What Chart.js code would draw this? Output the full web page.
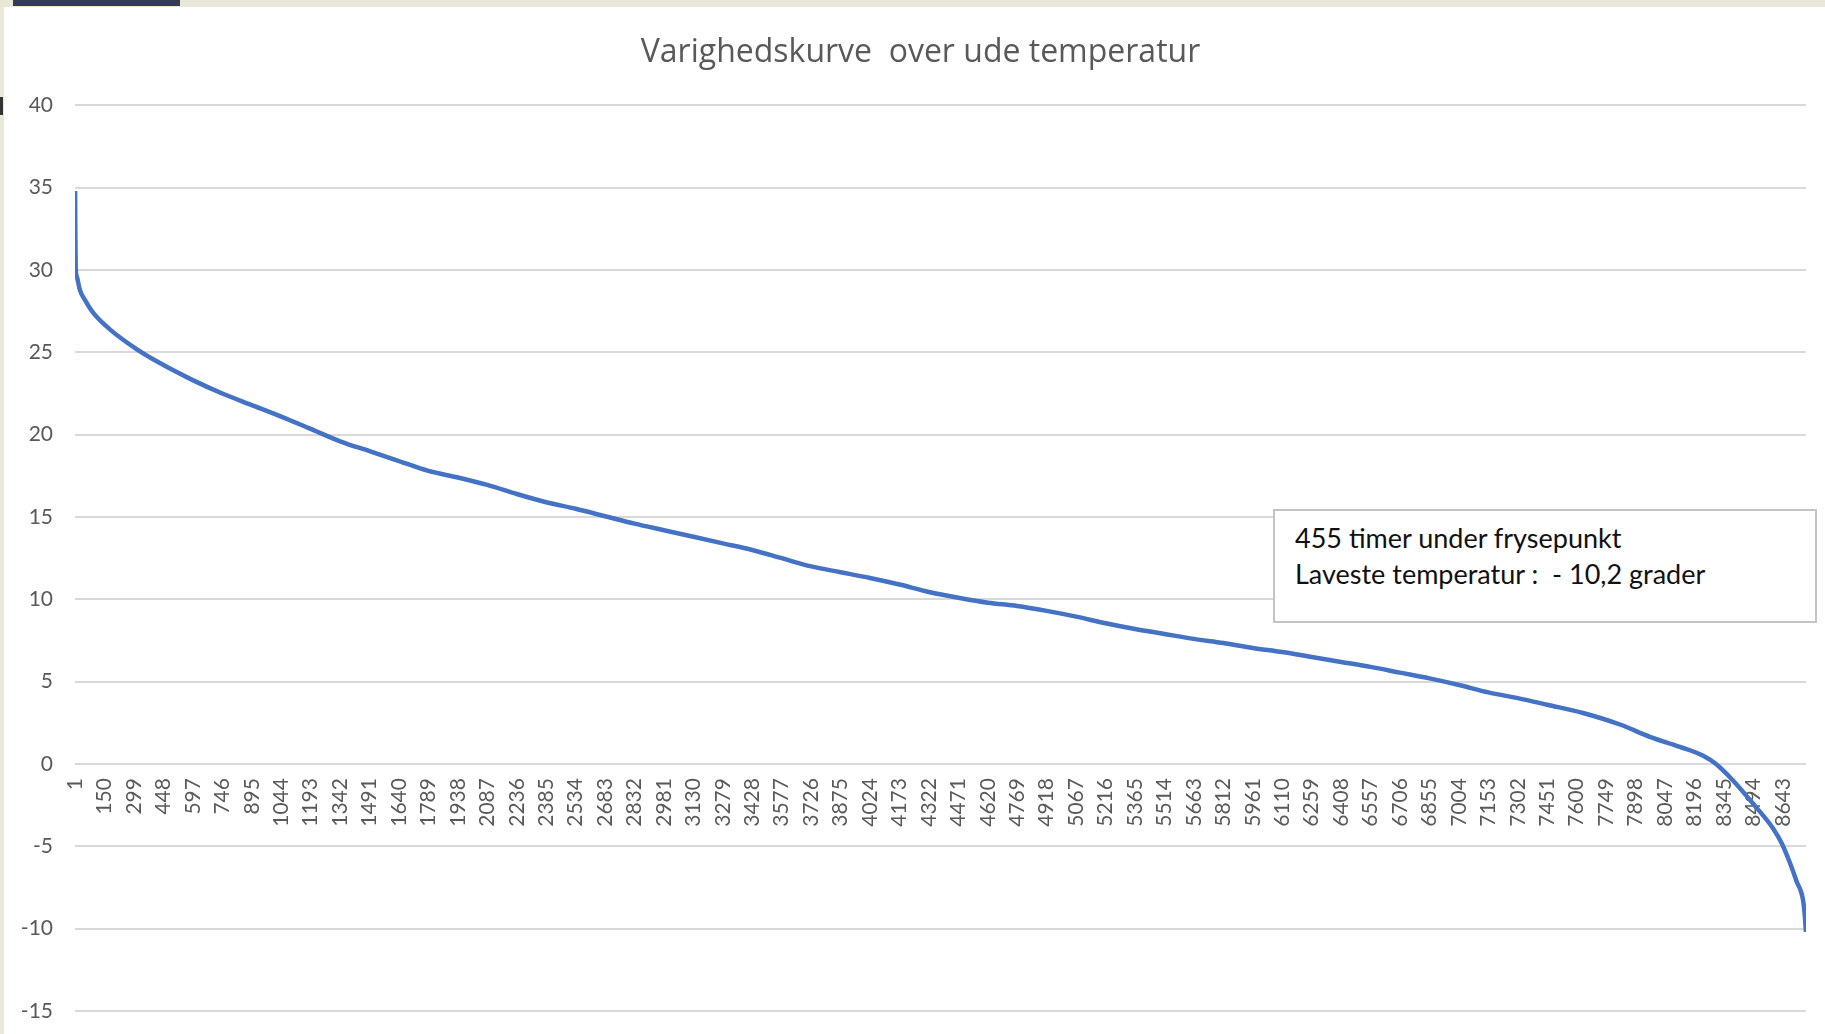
<!DOCTYPE html>
<html>
<head>
<meta charset="utf-8">
<script src="https://cdn.jsdelivr.net/npm/chart.js@4/dist/chart.umd.min.js"></script>
<style>
  html, body { margin: 0; padding: 0; width: 1825px; height: 1034px; overflow: hidden; background: #e9e8d8; }
  #wrap { position: absolute; left: 4px; top: 7px; width: 1821px; height: 1027px; background: #ffffff; }
  #bar { position: absolute; left: 13px; top: 0; width: 167px; height: 6px; background: #363a52; }
  #mark { position: absolute; left: 0; top: 97px; width: 3px; height: 18px; background: #333333; }
  #note { position: absolute; left: 1273px; top: 509px; width: 540px; height: 110px; background: #ffffff;
          border: 2px solid #c4c4c4; font-family: Lato, "Open Sans", sans-serif; font-size: 27px; line-height: 36px;
          color: #111111; padding: 0; box-sizing: content-box; }
  #note div { padding-left: 20px; white-space: pre; }
</style>
</head>
<body>
<div id="bar"></div>
<div id="mark"></div>
<div id="wrap"><canvas id="c"></canvas></div>
<div id="note"><div style="padding-top:9px">455 timer under frysepunkt</div><div>Laveste temperatur :  - 10,2 grader</div></div>
<script>
// Hours (sorted duration position) and temperature values
const hours = [1, 2, 4, 10, 25, 55, 93, 177, 312, 430, 599, 746, 895, 1044, 1193, 1342, 1491, 1640,
  1789, 1938, 2087, 2236, 2385, 2534, 2683, 2832, 2981, 3130, 3279, 3428, 3577, 3726, 3875, 4024, 4173, 4322,
  4471, 4620, 4769, 4918, 5067, 5216, 5365, 5514, 5663, 5812, 5961, 6110, 6259, 6408, 6557, 6706, 6855, 7004,
  7153, 7302, 7451, 7632, 7819, 7970, 8122, 8240, 8305, 8391, 8492, 8593, 8637, 8679, 8712, 8746, 8755, 8760];
const temps = [34.8, 32.5, 30.2, 29.6, 28.8, 28.1, 27.4, 26.4, 25.2, 24.35, 23.3, 22.5, 21.8, 21.1,
  20.35, 19.6, 19.0, 18.4, 17.8, 17.4, 16.95, 16.4, 15.9, 15.5, 15.05, 14.6, 14.2, 13.8, 13.4, 13.0, 12.5, 12.0,
  11.65, 11.3, 10.9, 10.45, 10.1, 9.8, 9.6, 9.3, 8.95, 8.55, 8.2, 7.9, 7.6, 7.35, 7.05, 6.8, 6.5, 6.2, 5.9, 5.55,
  5.2, 4.8, 4.35, 4.0, 3.6, 3.1, 2.4, 1.65, 1.04, 0.5, 0.0, -1.0, -2.4, -3.9, -4.8, -6.0, -7.1, -8.3, -9.3, -10.2];
const xTickLabels = [1, 150, 299, 448, 597, 746, 895, 1044, 1193, 1342, 1491, 1640, 1789, 1938, 2087, 2236, 2385,
  2534, 2683, 2832, 2981, 3130, 3279, 3428, 3577, 3726, 3875, 4024, 4173, 4322, 4471, 4620, 4769, 4918, 5067, 5216,
  5365, 5514, 5663, 5812, 5961, 6110, 6259, 6408, 6557, 6706, 6855, 7004, 7153, 7302, 7451, 7600, 7749, 7898, 8047,
  8196, 8345, 8494, 8643];
const totalHours = 8760;
const yTicks = [-15, -10, -5, 0, 5, 10, 15, 20, 25, 30, 35, 40];
const titleText = 'Varighedskurve  over ude temperatur';

Chart.defaults.font.family = 'Lato, "Open Sans", sans-serif';
Chart.defaults.color = '#595959';

new Chart(document.getElementById('c'), {
  type: 'line',
  data: {
    datasets: [{
      data: hours.map((h, i) => ({ x: h, y: temps[i] })),
      borderColor: '#4472C4',
      borderWidth: 4.5,
      pointRadius: 0,
      fill: false,
      cubicInterpolationMode: 'monotone'
    }]
  },
  options: {
    responsive: true,
    maintainAspectRatio: false,
    animation: false,
    devicePixelRatio: 1,
    layout: { padding: { left: 12, right: 0, top: 0, bottom: 23 } },
    plugins: {
      legend: { display: false },
      tooltip: { enabled: false },
      title: {
        display: true,
        text: titleText,
        color: '#595959',
        font: { family: '"Open Sans", sans-serif', size: 32, weight: 'normal', lineHeight: 1.2 },
        padding: { top: 27, bottom: 33 }
      }
    },
    scales: {
      x: {
        type: 'linear',
        position: { y: 0 },
        min: 0.5,
        max: totalHours + 0.5,
        afterBuildTicks: (s) => { s.ticks = xTickLabels.map(v => ({ value: v })); },
        grid: { display: false, drawTicks: false },
        border: { display: false },
        ticks: {
          autoSkip: false,
          minRotation: 90,
          maxRotation: 90,
          padding: 14,
          color: '#595959',
          font: { size: 21 },
          callback: (v) => String(v)
        }
      },
      y: {
        position: 'left',
        min: -15,
        max: 40,
        afterBuildTicks: (s) => { s.ticks = yTicks.map(v => ({ value: v })); },
        afterFit: (s) => { s.width = 59; },
        grid: { color: '#d9d9d9', lineWidth: 2, drawTicks: true, tickLength: 20, tickColor: 'rgba(0,0,0,0)' },
        border: { display: false },
        ticks: { padding: 2, color: '#595959', font: { size: 21 } }
      },
      yRight: {
        position: 'right',
        display: true,
        min: -15,
        max: 40,
        afterFit: (s) => { s.width = 19; },
        grid: { display: false, drawTicks: false },
        border: { display: false },
        ticks: { display: false }
      }
    }
  }
});
</script>
</body>
</html>
